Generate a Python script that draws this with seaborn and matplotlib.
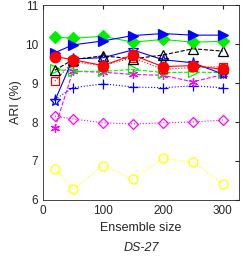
import matplotlib
matplotlib.use("Agg")
import matplotlib.pyplot as plt
import seaborn as sns

# ensemble sizes on the x axis
sizes = [20, 50, 100, 150, 200, 250, 300]

# ARI (%) per method
ari_blue_tri = [9.78, 9.98, 10.08, 10.22, 10.27, 10.23, 10.23]
ari_green_dia = [10.18, 10.15, 10.20, 10.05, 10.12, 10.05, 10.07]
ari_black_tri = [9.33, 9.60, 9.70, 9.62, 9.72, 9.88, 9.82]
ari_blue_star = [8.55, 9.62, 9.65, 9.85, 9.60, 9.52, 9.23]
ari_red_sq = [9.05, 9.55, 9.45, 9.65, 9.35, 9.40, 9.42]
ari_green_rtri = [9.35, 9.30, 9.30, 9.35, 9.27, 9.28, 9.27]
ari_magenta_ast = [7.85, 9.30, 9.28, 9.22, 9.20, 9.03, 9.22]
ari_blue_plus = [8.58, 8.88, 8.98, 8.90, 8.88, 8.93, 8.88]
ari_magenta_dia = [8.15, 8.08, 7.98, 7.95, 7.98, 8.00, 8.05]
ari_yellow_circ = [6.80, 6.27, 6.88, 6.53, 7.07, 6.97, 6.42]
ari_red_circ = [9.68, 9.60, 9.45, 9.72, 9.42, 9.45, 9.35]

sns.set_style("white")
plt.rcParams["font.family"] = ["Liberation Sans", "DejaVu Sans"]

fig = plt.figure(figsize=(2.41, 2.57), dpi=100)
ax = fig.add_axes([0.178, 0.222, 0.814, 0.758])

asterisk = (6, 2, 0)
series = [
    (ari_yellow_circ, "#ffff00", "o", ":", "none", 6.5),
    (ari_magenta_dia, "#ff00ff", "D", ":", "none", 5.5),
    (ari_blue_plus, "#0000ff", "+", ":", "#0000ff", 7),
    (ari_magenta_ast, "#ff00ff", asterisk, "--", "#ff00ff", 6.5),
    (ari_green_rtri, "#00ee00", ">", "--", "none", 6.5),
    (ari_red_sq, "#ff0000", "s", ":", "none", 5.5),
    (ari_blue_star, "#0000ff", "*", "-", "none", 8),
    (ari_black_tri, "#000000", "^", "--", "none", 6.5),
    (ari_green_dia, "#00ee00", "D", "-", "#00ee00", 6),
    (ari_blue_tri, "#0000ff", ">", "-", "#0000ff", 7.5),
    (ari_red_circ, "#ff0000", "o", "-", "#ff0000", 7.5),
]

for vals, col, mk, ls, fc, ms in series:
    sns.lineplot(x=sizes, y=vals, ax=ax, color=col, marker=mk, linestyle=ls,
                 markerfacecolor=fc, markeredgecolor=col, markersize=ms,
                 markeredgewidth=0.9, linewidth=0.8)

ax.set_xlim(0, 327)
ax.set_ylim(6, 11)
ax.set_xticks([0, 100, 200, 300])
ax.set_yticks([6, 7, 8, 9, 10, 11])
ax.tick_params(direction="in", length=3, labelsize=8.5, colors="#262626",
               top=True, right=True)
for sp in ax.spines.values():
    sp.set_color("#262626")
    sp.set_linewidth(0.6)

ax.set_xlabel("Ensemble size", fontsize=9, color="#262626", labelpad=4)
ax.set_ylabel("ARI (%)", fontsize=9, color="#262626", labelpad=2)
fig.text(0.585, 0.035, "DS-27", fontsize=9, style="italic", ha="center",
         va="center", color="#262626")

fig.savefig("out.png", dpi=100)
